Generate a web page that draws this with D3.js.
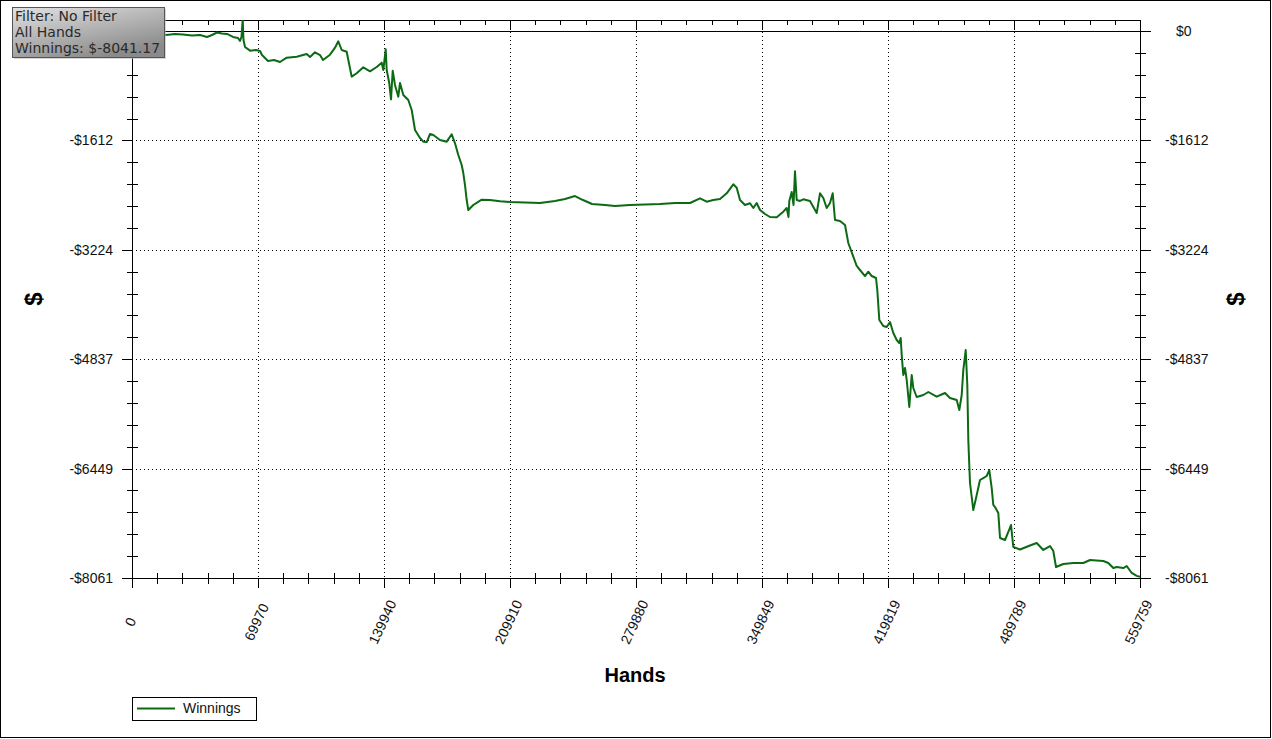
<!DOCTYPE html>
<html><head><meta charset="utf-8">
<script src="https://cdn.jsdelivr.net/npm/d3@7/dist/d3.min.js"></script>
<style>body{margin:0;background:#fff}svg{display:block}</style>
</head><body>
<svg id="c" width="1272" height="739"></svg>
<script>
const hands = [0,4443,9996,14438,18881,23879,28321,33319,37762,41649,44426,47202,49979,52755,56087,58864,59975,60808,61474,61918,62751,65528,68860,71081,72192,75524,78855,82187,85908,91461,97014,98847,101624,104400,106066,109953,112730,114563,116451,119227,120116,122004,124780,128446,132166,135887,138663,139552,140885,141440,142884,143828,144772,146049,147882,148826,150658,153435,155323,157156,159932,161765,163653,165485,167318,171039,174759,177536,179368,181201,183089,183978,184922,185866,186754,189531,194195,198805,204358,209911,218241,226571,234900,240454,246007,250449,255447,262666,268220,276549,284879,293209,301539,309869,315422,319142,322808,326528,330249,333914,335804,337635,340411,343188,345021,346908,348741,351518,354294,358015,361680,363568,364568,365012,366345,367345,368177,369121,370954,372787,376507,380228,382060,383893,385781,387613,389113,390390,393167,395943,397776,400553,402441,404273,407050,408882,410770,413158,413880,414991,417212,419100,420933,422766,424654,426098,426875,427430,428319,429262,430206,431650,432983,433871,435759,439425,442201,446866,451475,454252,457972,459416,460749,461638,462971,463859,464415,465358,467191,469079,470911,472744,474632,476076,477409,478297,479241,481074,482018,484794,486627,488126,489403,493124,498677,502398,506063,509784,511617,513116,517170,522723,528276,531997,539382,542159,544936,546824,550489,552377,555154,557930,559759];
const winnings = [0,-37,-44,-29,-59,-44,-52,-66,-59,-88,-59,-22,-37,-44,-88,-103,-147,-88,169,-133,-236,-290,-280,-295,-354,-442,-427,-457,-393,-379,-339,-383,-314,-354,-427,-349,-246,-152,-280,-305,-427,-673,-623,-535,-594,-531,-467,-575,-270,-575,-771,-1007,-585,-796,-968,-766,-943,-1017,-1164,-1459,-1577,-1631,-1636,-1518,-1533,-1606,-1631,-1522,-1655,-1827,-1975,-2093,-2270,-2491,-2638,-2564,-2486,-2491,-2510,-2520,-2527,-2535,-2505,-2476,-2432,-2491,-2550,-2564,-2579,-2564,-2557,-2550,-2535,-2535,-2466,-2516,-2491,-2476,-2392,-2259,-2309,-2491,-2564,-2539,-2608,-2535,-2638,-2697,-2741,-2746,-2663,-2608,-2741,-2505,-2373,-2564,-2068,-2491,-2505,-2480,-2505,-2682,-2392,-2461,-2608,-2535,-2392,-2785,-2800,-2859,-3124,-3326,-3463,-3522,-3611,-3547,-3611,-3640,-3817,-4259,-4347,-4362,-4288,-4451,-4554,-4598,-4524,-4775,-5070,-4966,-5143,-5541,-5070,-5261,-5394,-5364,-5320,-5389,-5335,-5408,-5438,-5585,-5364,-4996,-4701,-5217,-6027,-6661,-7059,-6838,-6617,-6588,-6558,-6470,-6735,-6985,-7015,-7103,-7472,-7501,-7383,-7280,-7604,-7641,-7582,-7545,-7648,-7590,-7663,-7899,-7855,-7840,-7840,-7796,-7811,-7840,-7914,-7899,-7914,-7884,-7987,-8030,-8041.17];
const xTicks = [0,69970,139940,209910,279880,349849,419819,489789,559759];
const yTicks = [0,-1612,-3224,-4837,-6449,-8061];
const yTickLabels = ["$0","-$1612","-$3224","-$4837","-$6449","-$8061"];
const infoLines = ["Filter: No Filter","All Hands","Winnings: $-8041.17"];
const seriesName = "Winnings";
const xTitle = "Hands", yTitle = "$";

const W=1272,H=739, L=132, R=1140, T=20, B=578;
const svg = d3.select("#c");
const x = d3.scaleLinear().domain([0,559759]).range([L,R]);
const y = d3.scaleLinear().domain([-8061,162]).range([B,T]);
const px = v => Math.round(x(v))+0.5;
const py = v => Math.round(y(v))+0.5;
const font = "'Liberation Sans', Arial, sans-serif";
const green = "#0d6a14";

svg.append("rect").attr("x",0.5).attr("y",0.5).attr("width",1270).attr("height",737)
  .attr("fill","#fff").attr("stroke","#000");

const minor = (ticks)=>{const m=[];for(let i=0;i<ticks.length-1;i++){for(let k=1;k<5;k++)m.push(ticks[i]+(ticks[i+1]-ticks[i])*k/5);}return m;};
const xMinor = minor(xTicks), yMinor = minor(yTicks);

const g = svg.append("g");
g.selectAll(".gx").data(xTicks.slice(1,-1)).join("line")
  .attr("x1",d=>px(d)).attr("x2",d=>px(d)).attr("y1",T).attr("y2",B)
  .attr("stroke","#000").attr("stroke-dasharray","1,3");
g.selectAll(".gy").data(yTicks.filter(d=>d!==0 && d!==-8061)).join("line")
  .attr("y1",d=>py(d)).attr("y2",d=>py(d)).attr("x1",L).attr("x2",R)
  .attr("stroke","#000").attr("stroke-dasharray","1,3");
g.append("line").attr("x1",L-10).attr("x2",R+11).attr("y1",py(0)).attr("y2",py(0)).attr("stroke","#000");

g.append("line").attr("x1",L).attr("x2",R+1).attr("y1",T+0.5).attr("y2",T+0.5).attr("stroke","#000");
g.append("line").attr("x1",L).attr("x2",R+1).attr("y1",B+0.5).attr("y2",B+0.5).attr("stroke","#000");
g.append("line").attr("x1",L+0.5).attr("x2",L+0.5).attr("y1",T).attr("y2",B+1).attr("stroke","#000");
g.append("line").attr("x1",R+0.5).attr("x2",R+0.5).attr("y1",T).attr("y2",B+1).attr("stroke","#000");

g.selectAll(".bt").data(xTicks).join("line").attr("x1",d=>px(d)).attr("x2",d=>px(d))
  .attr("y1",B).attr("y2",B+10).attr("stroke","#000");
g.selectAll(".bm").data(xMinor).join("line").attr("x1",d=>px(d)).attr("x2",d=>px(d))
  .attr("y1",B-5).attr("y2",B+6).attr("stroke","#000");
g.selectAll(".tt").data(xTicks).join("line").attr("x1",d=>px(d)).attr("x2",d=>px(d))
  .attr("y1",T).attr("y2",T+10).attr("stroke","#000");
g.selectAll(".tm").data(xMinor).join("line").attr("x1",d=>px(d)).attr("x2",d=>px(d))
  .attr("y1",T).attr("y2",T+5).attr("stroke","#000");
g.selectAll(".lt").data(yTicks).join("line").attr("y1",d=>py(d)).attr("y2",d=>py(d))
  .attr("x1",L-10).attr("x2",L).attr("stroke","#000");
g.selectAll(".lm").data(yMinor).join("line").attr("y1",d=>py(d)).attr("y2",d=>py(d))
  .attr("x1",L-5).attr("x2",L+6).attr("stroke","#000");
g.selectAll(".rt").data(yTicks).join("line").attr("y1",d=>py(d)).attr("y2",d=>py(d))
  .attr("x1",R).attr("x2",R+11).attr("stroke","#000");
g.selectAll(".rm").data(yMinor).join("line").attr("y1",d=>py(d)).attr("y2",d=>py(d))
  .attr("x1",R-5).attr("x2",R+6).attr("stroke","#000");

g.selectAll(".xl").data(xTicks).join("text")
  .attr("transform",d=>`translate(${x(d)-1.5},622) rotate(-65)`)
  .attr("text-anchor","middle").attr("dy","0.35em")
  .attr("font-family",font).attr("font-size",14).attr("fill","#111").text(d=>String(d));
g.selectAll(".yl").data(yTicks).join("text")
  .attr("x",113).attr("y",d=>y(d)).attr("dy","0.35em").attr("text-anchor","end")
  .attr("font-family",font).attr("font-size",14).attr("fill","#111").text((d,i)=>yTickLabels[i]);
g.selectAll(".yr").data(yTicks).join("text")
  .attr("x",d=>d===0?1176:1165).attr("y",d=>y(d)).attr("dy","0.35em").attr("text-anchor","start")
  .attr("font-family",font).attr("font-size",14).attr("fill","#111").text((d,i)=>yTickLabels[i]);

svg.append("text").attr("x",635).attr("y",682).attr("text-anchor","middle")
  .attr("font-family",font).attr("font-weight","bold").attr("font-size",20).text(xTitle);
[34,1236].forEach(cx=>{
  svg.append("text").attr("transform",`translate(${cx},299) rotate(-90)`)
    .attr("text-anchor","middle").attr("dy","0.35em")
    .attr("font-family",font).attr("font-weight","bold").attr("font-size",24).text(yTitle);
});

svg.append("clipPath").attr("id","pc").append("rect").attr("x",L).attr("y",T).attr("width",R-L+1).attr("height",B-T+1);
const data = hands.map((h,i)=>[h,winnings[i]]);
svg.append("path").datum(data).attr("clip-path","url(#pc)")
  .attr("d",d3.line().x(d=>x(d[0])).y(d=>y(d[1])))
  .attr("fill","none").attr("stroke",green).attr("stroke-width",2).attr("stroke-linejoin","round");

const defs = svg.append("defs");
const gr = defs.append("linearGradient").attr("id","ig").attr("x1","0").attr("y1","0").attr("x2","0.6").attr("y2","1");
gr.append("stop").attr("offset","0").attr("stop-color","#e2e2e2");
gr.append("stop").attr("offset","1").attr("stop-color","#8a8a8a");
svg.append("rect").attr("x",14).attr("y",9).attr("width",152).attr("height",50).attr("fill","#bbb").attr("opacity",0.6);
svg.append("rect").attr("x",12.5).attr("y",7.5).attr("width",152).attr("height",50)
  .attr("fill","url(#ig)").attr("stroke","#555");
svg.selectAll(".info").data(infoLines).join("text")
  .attr("x",15).attr("y",(d,i)=>21+i*16)
  .attr("font-family","'DejaVu Sans', Verdana, sans-serif").attr("font-size",14).attr("fill","#2a2a2a").text(d=>d);

svg.append("rect").attr("x",132.5).attr("y",697.5).attr("width",124).attr("height",23).attr("fill","#fff").attr("stroke","#000");
svg.append("line").attr("x1",137).attr("x2",175).attr("y1",708.5).attr("y2",708.5).attr("stroke",green).attr("stroke-width",2);
svg.append("text").attr("x",183).attr("y",713).attr("font-family",font).attr("font-size",14).attr("fill","#111").text(seriesName);
</script>
</body></html>
